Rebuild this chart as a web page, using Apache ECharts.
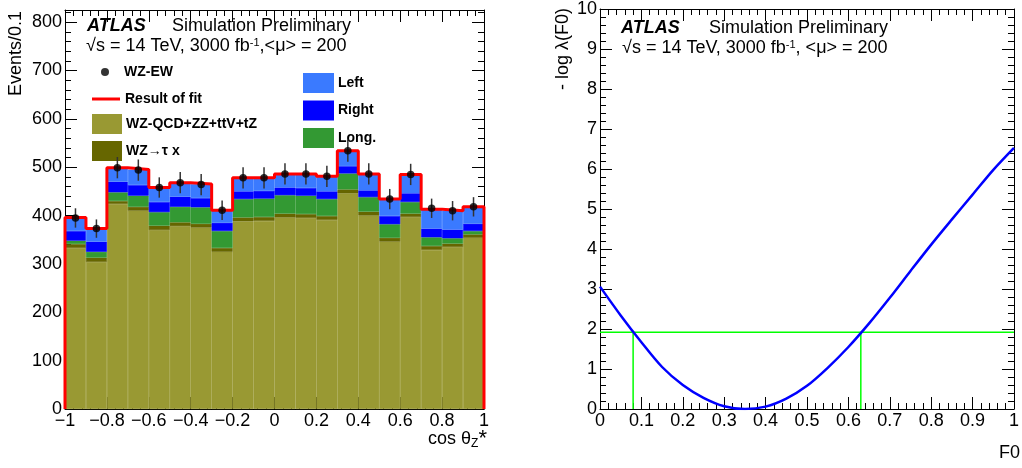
<!DOCTYPE html>
<html>
<head>
<meta charset="utf-8">
<script src="https://cdn.jsdelivr.net/npm/echarts@6/dist/echarts.min.js"></script>
<style>
html,body{margin:0;padding:0;background:#fff;}
#chart{width:1022px;height:468px;}
</style>
</head>
<body>
<div id="chart"></div>
<script>
// ---------- Data (left panel: cos theta_Z* distribution) ----------
const binLabels = ['-1.0','-0.9','-0.8','-0.7','-0.6','-0.5','-0.4','-0.3','-0.2','-0.1',
                   '0.0','0.1','0.2','0.3','0.4','0.5','0.6','0.7','0.8','0.9'];
const binEdges = [-1,-0.9,-0.8,-0.7,-0.6,-0.5,-0.4,-0.3,-0.2,-0.1,0,0.1,0.2,0.3,0.4,0.5,0.6,0.7,0.8,0.9,1];
const bkgQCD  = [333,304,424,410,370,378,375,325,388,389,396,395,391,446,400,346,397,329,335,354];
const wzTau   = [8,9,6,8,9,8,8,8,8,8,8,8,8,8,8,8,7,8,7,7];
const fracLong  = [7,12,18,23,28,32,34,35,38,38,38,38,35,33,30,28,24,18,11,7];
const fracRight = [20,21,22,22,21,21,19,17,16,16,16,16,16,15,14,17,18,18,18,15];
const fracLeft  = [28,27,29,32,30,29,29,26,28,27,28,29,31,32,34,35,39,40,39,35];
const dataEW  = [395,373,499,494,458,468,464,411,478,478,486,486,481,534,486,434,485,415,410,418];
const dataErr = [20,19,22,22,21,22,22,20,22,22,22,22,22,23,22,21,22,20,20,20];

// ---------- Data (right panel: -log lambda(F0)) ----------
const f0Values = [0,0.05,0.1,0.15,0.2,0.25,0.3,0.35,0.4,0.45,0.5,0.55,0.6,0.65,0.7,0.75,0.8,0.85,0.9,0.95,1];
const nllValues = [3.06,2.34,1.67,1.05,0.60,0.28,0.07,0.0,0.06,0.26,0.58,1.03,1.55,2.14,2.78,3.45,4.11,4.74,5.36,5.98,6.53];
const clLevel = 1.92;
const clLow = 0.08;
const clHigh = 0.63;

// ---------- Derived ----------
const fitTotal = bkgQCD.map((v,i)=>v+wzTau[i]+fracLong[i]+fracRight[i]+fracLeft[i]);
const fitStep = [[binEdges[0],0]];
fitTotal.forEach((v,i)=>{ fitStep.push([binEdges[i],v]); fitStep.push([binEdges[i+1],v]); });
fitStep.push([binEdges[binEdges.length-1],0]);

const FONT = '"Liberation Sans", Arial, Helvetica, sans-serif';
const fmtX = v => v < 0 ? '\u2212' + String(+(-v).toFixed(1)) : String(+v.toFixed(1));

function valueAxisCommon(extra){
  return Object.assign({
    type:'value',
    axisLine:{show:true,onZero:false,lineStyle:{color:'#000',width:1}},
    axisTick:{show:true,inside:true,length:12,lineStyle:{color:'#000',width:1}},
    minorTick:{show:true,splitNumber:5,length:6,lineStyle:{color:'#000',width:1}},
    splitLine:{show:false},
    axisLabel:{show:true,color:'#000',fontFamily:FONT,fontSize:18,margin:4},
  }, extra);
}

const chart = echarts.init(document.getElementById('chart'), null, {renderer:'canvas'});

const bandColors = {qcd:'#999933', tau:'#666600', lng:'#339933', right:'#0000ff', left:'#3a7aff'};
const legendText = {fontFamily:FONT,fontSize:14,fontWeight:'bold',color:'#000'};
function barStyle(c){ return {color:c, borderColor:c, borderWidth:0.6}; }

const option = {
  animation:false,
  backgroundColor:'#fff',
  grid:[
    {left:65, top:10, width:419, height:399, containLabel:false},
    {left:600, top:9, width:419, height:400, containLabel:false}
  ],
  xAxis:[
    valueAxisCommon({gridIndex:0, position:'bottom', min:-1, max:1, interval:0.2,
      axisLabel:{color:'#000',fontFamily:FONT,fontSize:18,margin:3,formatter:fmtX}}),
    {type:'category', gridIndex:0, position:'bottom', data:binLabels, show:false, boundaryGap:true},
    valueAxisCommon({gridIndex:0, position:'top', min:-1, max:1, interval:0.2, axisLabel:{show:false}}),
    valueAxisCommon({gridIndex:1, position:'bottom', min:0, max:1, interval:0.1,
      axisLabel:{color:'#000',fontFamily:FONT,fontSize:18,margin:3}}),
    valueAxisCommon({gridIndex:1, position:'top', min:0, max:1, interval:0.1, axisLabel:{show:false}})
  ],
  yAxis:[
    valueAxisCommon({gridIndex:0, position:'left', min:0, max:825, interval:100,
      axisLabel:{color:'#000',fontFamily:FONT,fontSize:18,margin:3,showMaxLabel:false}}),
    valueAxisCommon({gridIndex:0, position:'right', min:0, max:825, interval:100, axisLabel:{show:false}}),
    valueAxisCommon({gridIndex:1, position:'left', min:0, max:10, interval:1,
      axisLabel:{color:'#000',fontFamily:FONT,fontSize:18,margin:3}}),
    valueAxisCommon({gridIndex:1, position:'right', min:0, max:10, interval:1, axisLabel:{show:false}})
  ],
  legend:[
    {data:[{name:'WZ-EW',icon:'circle'}], left:101, top:65, padding:0, orient:'vertical', itemWidth:28, itemHeight:8,
     selectedMode:false, textStyle:legendText},
    {data:[{name:'Result of fit',icon:'rect'}], left:92, top:92, padding:0, orient:'vertical', itemWidth:28, itemHeight:3,
     selectedMode:false, textStyle:legendText},
    {data:[{name:'WZ-QCD+ZZ+ttV+tZ',icon:'rect'},{name:'WZ\u2192\u03c4 x',icon:'rect'}], left:92, top:114, padding:0,
     orient:'vertical', itemWidth:28, itemHeight:18, itemGap:7, selectedMode:false, textStyle:legendText},
    {data:[{name:'Left',icon:'rect'},{name:'Right',icon:'rect'},{name:'Long.',icon:'rect'}], left:303, top:73, padding:0,
     orient:'vertical', itemWidth:29, itemHeight:18, itemGap:7.5, selectedMode:false, textStyle:legendText}
  ],
  series:[
    {name:'WZ-QCD+ZZ+ttV+tZ', type:'bar', xAxisIndex:1, yAxisIndex:0, stack:'mc', data:bkgQCD,
     barWidth:'100%', barCategoryGap:0, itemStyle:barStyle(bandColors.qcd), z:2},
    {name:'WZ\u2192\u03c4 x', type:'bar', xAxisIndex:1, yAxisIndex:0, stack:'mc', data:wzTau,
     barWidth:'100%', barCategoryGap:0, itemStyle:barStyle(bandColors.tau), z:2},
    {name:'Long.', type:'bar', xAxisIndex:1, yAxisIndex:0, stack:'mc', data:fracLong,
     barWidth:'100%', barCategoryGap:0, itemStyle:barStyle(bandColors.lng), z:2},
    {name:'Right', type:'bar', xAxisIndex:1, yAxisIndex:0, stack:'mc', data:fracRight,
     barWidth:'100%', barCategoryGap:0, itemStyle:barStyle(bandColors.right), z:2},
    {name:'Left', type:'bar', xAxisIndex:1, yAxisIndex:0, stack:'mc', data:fracLeft,
     barWidth:'100%', barCategoryGap:0, itemStyle:barStyle(bandColors.left), z:2},
    {name:'Result of fit', type:'line', xAxisIndex:0, yAxisIndex:0, data:fitStep, symbol:'none',
     lineStyle:{color:'#ff0000', width:3}, itemStyle:{color:'#ff0000'}, z:3},
    {name:'errbars', type:'custom', xAxisIndex:1, yAxisIndex:0,
     data:dataEW.map((v,i)=>[i,v,dataErr[i]]), encode:{x:0,y:1}, z:4,
     renderItem:function(params, api){
       const x = api.value(0), v = api.value(1), e = api.value(2);
       const p1 = api.coord([x, v+e]), p2 = api.coord([x, v-e]);
       return {type:'line', shape:{x1:p1[0],y1:p1[1],x2:p2[0],y2:p2[1]},
               style:{stroke:'#333', lineWidth:1.5}};
     }},
    {name:'WZ-EW', type:'scatter', xAxisIndex:1, yAxisIndex:0, data:dataEW, symbol:'circle', symbolSize:7.5,
     itemStyle:{color:'#000'}, z:5},
    // right panel
    {name:'nll', type:'line', xAxisIndex:3, yAxisIndex:2, data:f0Values.map((x,i)=>[x,nllValues[i]]),
     smooth:0.3, symbol:'none', lineStyle:{color:'#0000ff', width:2.5}, z:4},
    {name:'cl-h', type:'line', xAxisIndex:3, yAxisIndex:2, data:[[0,clLevel],[1,clLevel]],
     symbol:'none', lineStyle:{color:'#00ff00', width:1.5}, z:3},
    {name:'cl-lo', type:'line', xAxisIndex:3, yAxisIndex:2, data:[[clLow,0],[clLow,clLevel]],
     symbol:'none', lineStyle:{color:'#00ff00', width:1.5}, z:3},
    {name:'cl-hi', type:'line', xAxisIndex:3, yAxisIndex:2, data:[[clHigh,0],[clHigh,clLevel]],
     symbol:'none', lineStyle:{color:'#00ff00', width:1.5}, z:3}
  ],
  graphic:[
    // left panel annotations
    {type:'text', left:87, top:17, z:10, style:{text:'ATLAS', font:'italic bold 18px '+FONT, fill:'#000'}},
    {type:'text', left:172, top:17, z:10, style:{text:'Simulation Preliminary', font:'18px '+FONT, fill:'#000'}},
    {type:'text', left:86, top:37, z:10, style:{
      text:'{n|\u221as = 14 TeV, 3000 fb}{s|-1}{n|,<\u03bc> = 200}',
      rich:{n:{fontFamily:FONT,fontSize:18,fill:'#000'}, s:{fontFamily:FONT,fontSize:11,verticalAlign:'top',fill:'#000'}}}},
    // right panel annotations
    {type:'text', left:621, top:19, z:10, style:{text:'ATLAS', font:'italic bold 18px '+FONT, fill:'#000'}},
    {type:'text', left:709, top:19, z:10, style:{text:'Simulation Preliminary', font:'18px '+FONT, fill:'#000'}},
    {type:'text', left:622, top:39, z:10, style:{
      text:'{n|\u221as = 14 TeV, 3000 fb}{s|-1}{n|, <\u03bc> = 200}',
      rich:{n:{fontFamily:FONT,fontSize:18,fill:'#000'}, s:{fontFamily:FONT,fontSize:11,verticalAlign:'top',fill:'#000'}}}},
    // axis titles
    {type:'text', x:16, y:11, rotation:Math.PI/2, z:10,
     style:{text:'Events/0.1', font:'18px '+FONT, fill:'#000', textAlign:'right', textVerticalAlign:'middle'}},
    {type:'text', x:563, y:8, rotation:Math.PI/2, z:10,
     style:{text:'- log \u03bb(F0)', font:'18px '+FONT, fill:'#000', textAlign:'right', textVerticalAlign:'middle'}},
    {type:'text', right:1022-487, top:428, z:10, style:{
      text:'{n|cos \u03b8}{b|Z}{t|*}',
      rich:{n:{fontFamily:FONT,fontSize:18,fill:'#000'}, b:{fontFamily:FONT,fontSize:12,verticalAlign:'bottom',fill:'#000'},
            t:{fontFamily:FONT,fontSize:22,verticalAlign:'top',fill:'#000'}}}},
    {type:'text', right:2, top:444, z:10, style:{text:'F0', font:'18px '+FONT, fill:'#000'}}
  ]
};
chart.setOption(option);
</script>
</body>
</html>
